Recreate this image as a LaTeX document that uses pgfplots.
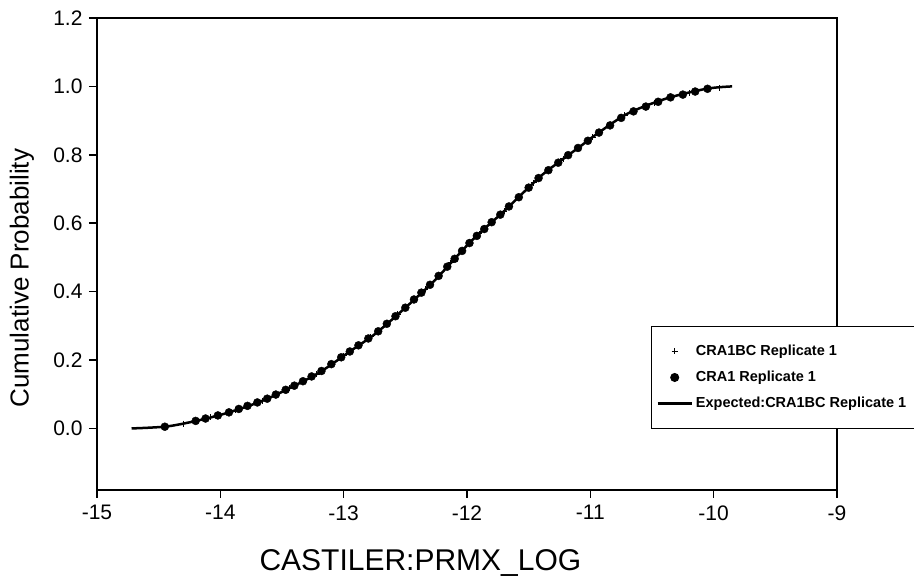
\documentclass[border=0pt]{standalone}
\usepackage{pgfplots}
\pgfplotsset{compat=1.18}
\usepackage{fontspec}
\setmainfont{Liberation Sans}

\begin{document}
\begin{tikzpicture}
\begin{axis}[
  name=ax,
  scale only axis,
  width=740pt, height=472pt,
  xmin=-15, xmax=-9,
  ymin=-0.18, ymax=1.2,
  xtick={-15,-14,-13,-12,-11,-10,-9},
  ytick={0,0.2,0.4,0.6,0.8,1.0,1.2},
  /pgf/number format/assume math mode=true,
  tick label style={font=\fontsize{21}{24}\selectfont},
  xticklabel style={yshift=-4pt},
  yticklabel style={xshift=-3pt, /pgf/number format/fixed,
    /pgf/number format/fixed zerofill, /pgf/number format/precision=1},
  axis line style={line width=1.5pt},
  major tick style={line width=1.5pt, black},
  tick align=outside,
  major tick length=8pt,
  xtick pos=left, ytick pos=left,
  xlabel={CASTILER:PRMX\_LOG},
  ylabel={Cumulative Probability},
  xlabel style={at={(axis description cs:0.437,-0.1547)}, anchor=center, font=\fontsize{30}{34}\selectfont},
  ylabel style={at={(axis description cs:-0.1014,0.449)}, anchor=center, font=\fontsize{26}{30}\selectfont},
  legend image code/.code={\draw[mark repeat=2,mark phase=2,#1] plot coordinates {(0pt,0pt) (17pt,0pt) (34pt,0pt)};},
  legend style={at={(axis description cs:0.7486,0.3475)}, anchor=north west,
    draw=black, line width=1pt, font=\bfseries\fontsize{14.5}{18}\selectfont,
    cells={anchor=west}, inner xsep=5pt, inner ysep=14pt,
    nodes={text height=12pt, text depth=4pt, inner sep=3pt}, row sep=4pt},
]
% CRA1BC Replicate 1
\addplot[only marks, mark=+, mark size=3pt, black, line width=1pt] coordinates {
(-14.30,0.014) (-14.08,0.033) (-13.88,0.053) (-13.66,0.081) (-13.44,0.118)
(-13.22,0.159) (-13.00,0.213) (-12.78,0.268) (-12.56,0.334) (-12.34,0.407)
(-12.13,0.484) (-11.90,0.569) (-11.70,0.635) (-11.46,0.718) (-11.22,0.788)
(-10.98,0.852) (-10.72,0.915) (-10.48,0.951) (-10.20,0.981) (-9.95,0.996)
};
\addlegendentry{CRA1BC Replicate 1}
% CRA1 Replicate 1
\addplot[only marks, mark=*, mark size=4pt, black] coordinates {
(-14.45,0.005) (-14.20,0.022) (-14.12,0.029) (-14.02,0.038) (-13.93,0.047)
(-13.85,0.057) (-13.78,0.066) (-13.70,0.076) (-13.62,0.087) (-13.55,0.099)
(-13.47,0.113) (-13.40,0.125) (-13.33,0.138) (-13.26,0.152) (-13.18,0.168)
(-13.10,0.188) (-13.02,0.208) (-12.95,0.225) (-12.88,0.243) (-12.80,0.263)
(-12.72,0.284) (-12.65,0.306) (-12.58,0.328) (-12.50,0.353) (-12.43,0.377)
(-12.37,0.397) (-12.30,0.420) (-12.23,0.446) (-12.16,0.473) (-12.10,0.496)
(-12.04,0.519) (-11.98,0.542) (-11.92,0.563) (-11.86,0.583) (-11.80,0.603)
(-11.73,0.625) (-11.66,0.649) (-11.58,0.676) (-11.50,0.704) (-11.42,0.732)
(-11.34,0.755) (-11.26,0.777) (-11.18,0.799) (-11.10,0.820) (-11.02,0.841)
(-10.93,0.865) (-10.84,0.886) (-10.75,0.908) (-10.65,0.927) (-10.55,0.941)
(-10.45,0.955) (-10.35,0.968) (-10.25,0.976) (-10.15,0.985) (-10.05,0.993)
};
\addlegendentry{CRA1 Replicate 1}
% Expected
\addplot[black, line width=2.5pt, smooth] coordinates {
(-14.72,0.000) (-14.43,0.006) (-14.16,0.025) (-13.92,0.048) (-13.65,0.082)
(-13.41,0.123) (-13.19,0.165) (-12.95,0.225) (-12.75,0.275) (-12.54,0.340)
(-12.27,0.430) (-12.00,0.535) (-11.84,0.590) (-11.70,0.635) (-11.41,0.735)
(-11.25,0.780) (-11.08,0.825) (-10.97,0.855) (-10.70,0.920) (-10.38,0.965)
(-10.06,0.993) (-9.85,1.000)
};
\addlegendentry{Expected:CRA1BC Replicate 1}
\end{axis}
\pgfresetboundingbox
\path ([xshift=-97pt,yshift=-87pt]ax.south west) rectangle ([xshift=77pt,yshift=18pt]ax.north east);
\end{tikzpicture}
\end{document}
